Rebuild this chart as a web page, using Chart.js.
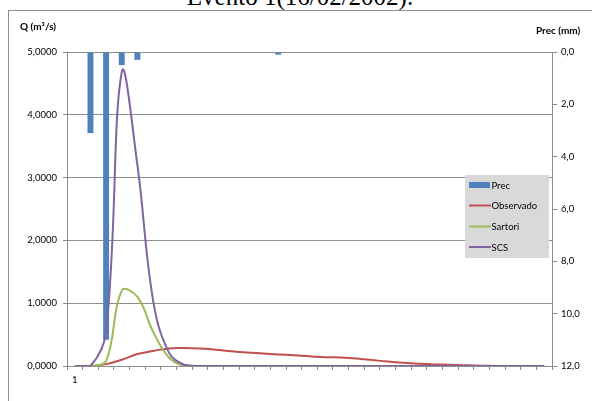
<!DOCTYPE html>
<html>
<head>
<meta charset="utf-8">
<script src="https://cdn.jsdelivr.net/npm/chart.js@4.4.0/dist/chart.umd.min.js"></script>
<style>
  html, body { margin: 0; padding: 0; background: #fff; overflow: hidden; }
  #wrap { position: relative; width: 592px; height: 401px; }
  #frame { position: absolute; left: 8px; top: 10px; width: 700px; height: 500px;
           border-left: 1px solid #8e8e8e; border-top: 1px solid #8e8e8e; }
  #title { position: absolute; left: 0; width: 600px; top: -16px; text-align: center;
           font-family: "Liberation Serif", "Times New Roman", serif; font-size: 25px; line-height: 25px; color: #000; white-space: nowrap; }
  canvas { position: absolute; left: 0; top: 0; }
</style>
</head>
<body>
<div id="wrap">
  <div id="title">Evento 1(16/02/2002).</div>
  <div id="frame"></div>
  <canvas id="c" width="592" height="401"></canvas>
</div>
<script>
const categories = ['1','2','3','4','5','6','7','8','9','10','11','12','13','14','15','16','17','18','19','20','21','22','23','24','25','26','27','28','29','30','31'];
const precMm    = [0, 3.1, 11.0, 0.5, 0.3, 0, 0, 0, 0, 0, 0, 0, 0, 0.1, 0, 0, 0, 0, 0, 0, 0, 0, 0, 0, 0, 0, 0, 0, 0, 0, 0];
const observado = [0, 0, 0.03, 0.1, 0.19, 0.24, 0.28, 0.285, 0.28, 0.26, 0.235, 0.215, 0.2, 0.185, 0.17, 0.155, 0.14, 0.135, 0.12, 0.095, 0.07, 0.05, 0.035, 0.025, 0.02, 0.01, 0.005, 0, 0, 0, 0];
const sartori   = [0, 0, 0.08, 1.2, 1.1, 0.55, 0.14, 0, 0, 0, 0, 0, 0, 0, 0, 0, 0, 0, 0, 0, 0, 0, 0, 0, 0, 0, 0, 0, 0, 0, 0];
const scs       = [0, 0, 0.55, 4.68, 3.2, 1.05, 0.22, 0.02, 0, 0, 0, 0, 0, 0, 0, 0, 0, 0, 0, 0, 0, 0, 0, 0, 0, 0, 0, 0, 0, 0, 0];
const seriesNames = ['Prec', 'Observado', 'Sartori', 'SCS'];
const leftAxisTitle = 'Q (m³/s)';
const rightAxisTitle = 'Prec (mm)';

const GRID = '#8c8c8c';
const FONT = 'Lato, "Liberation Sans", sans-serif';

const overlayPlugin = {
  id: 'overlay',
  afterDraw(chart) {
    const ctx = chart.ctx;
    ctx.save();
    // axis titles
    ctx.fillStyle = '#000';
    ctx.font = 'bold 10px ' + FONT;
    ctx.textBaseline = 'middle';
    ctx.textAlign = 'left';
    ctx.fillText(leftAxisTitle, 20, 27);
    ctx.fillText(rightAxisTitle, 536, 31);
    // legend
    const lx = 465, ly = 175, lw = 84, lh = 83;
    ctx.fillStyle = '#d9d9d9';
    ctx.fillRect(lx, ly, lw, lh);
    const rows = [185, 205.5, 226.5, 247];
    ctx.font = '9.5px ' + FONT;
    chart.data.datasets.forEach((ds, i) => {
      const y = rows[i];
      if (ds.type === 'bar') {
        ctx.fillStyle = ds.backgroundColor;
        ctx.fillRect(469, y - 3, 21, 6);
      } else {
        ctx.strokeStyle = ds.borderColor;
        ctx.lineWidth = 2;
        ctx.beginPath();
        ctx.moveTo(469, y);
        ctx.lineTo(491, y);
        ctx.stroke();
      }
      ctx.fillStyle = '#000';
      ctx.fillText(ds.label, 491.5, y + 0.5);
    });
    ctx.restore();
  }
};

const lineDs = (label, data, color, order) => ({
  type: 'line', label, data, yAxisID: 'y', borderColor: color, backgroundColor: color,
  borderWidth: 2, pointRadius: 0, tension: 0.4, order
});

new Chart(document.getElementById('c'), {
  data: {
    labels: categories,
    datasets: [
      { type: 'bar', label: seriesNames[0], data: precMm, yAxisID: 'y2', backgroundColor: '#4f81bd',
        barPercentage: 0.38, categoryPercentage: 1.0, order: 4 },
      lineDs(seriesNames[1], observado, '#c0504d', 3),
      lineDs(seriesNames[2], sartori, '#9bbb59', 2),
      lineDs(seriesNames[3], scs, '#8064a2', 1)
    ]
  },
  options: {
    responsive: false,
    animation: false,
    events: [],
    layout: { padding: { top: 52, left: 0, right: 0, bottom: 0 } },
    plugins: { legend: { display: false }, tooltip: { enabled: false }, title: { display: false } },
    scales: {
      x: {
        type: 'category',
        offset: true,
        grid: { offset: true, drawOnChartArea: false, drawTicks: true, tickLength: 4, color: GRID },
        border: { display: true, color: GRID },
        ticks: { autoSkip: false, maxRotation: 0, padding: 4, color: '#000', font: { family: FONT, size: 9.5 },
                 callback: (v, i) => i === 0 ? categories[i] : '' },
        afterFit: s => { s.height = 35; }
      },
      y: {
        position: 'left', min: 0, max: 5,
        grid: { color: GRID, tickLength: 4, drawTicks: true },
        border: { display: true, color: GRID },
        ticks: { stepSize: 1, padding: 6, color: '#000', font: { family: FONT, size: 9.5 },
                 callback: v => v.toFixed(4).replace('.', ',') },
        afterFit: s => { s.width = 67; }
      },
      y2: {
        position: 'right', min: 0, max: 12, reverse: true,
        grid: { drawOnChartArea: false, drawTicks: true, tickLength: 5, color: GRID },
        border: { display: true, color: GRID },
        ticks: { stepSize: 2, padding: 4, color: '#000', font: { family: FONT, size: 9.5 },
                 callback: v => v.toFixed(1).replace('.', ',') },
        afterFit: s => { s.width = 40; }
      }
    }
  },
  plugins: [overlayPlugin]
});
</script>
</body>
</html>
